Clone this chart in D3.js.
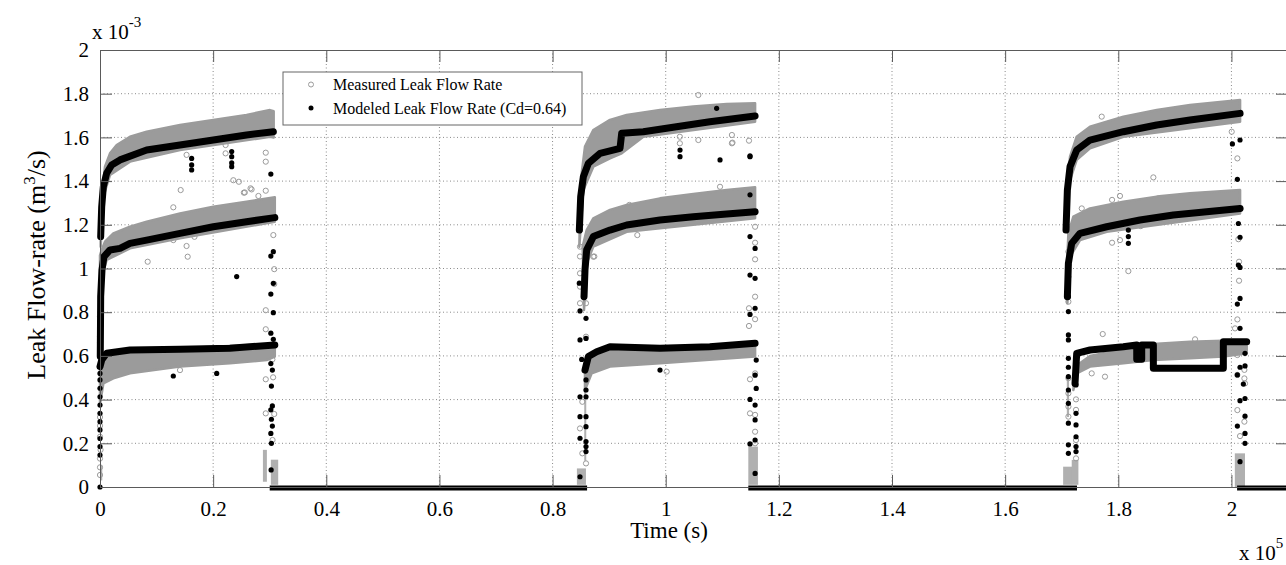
<!DOCTYPE html>
<html>
<head>
<meta charset="utf-8">
<script src="https://cdn.jsdelivr.net/npm/d3@7"></script>
<style>
  html, body { margin: 0; padding: 0; background: #fff; }
  svg text { font-family: "Liberation Serif", "Times New Roman", serif; fill: #000; }
</style>
</head>
<body>
<svg id="chart" width="1286" height="565"></svg>
<script>
// tick values (x in units of 1e5 s, y in units of 1e-3 m3/s)
const xTicks = [0, 0.2, 0.4, 0.6, 0.8, 1, 1.2, 1.4, 1.6, 1.8, 2];
const yTicks = [0, 0.2, 0.4, 0.6, 0.8, 1, 1.2, 1.4, 1.6, 1.8, 2];

// measured band outlines: [time, flow]
const measuredTop = [
  [[0.0012,1.15],[0.003,1.30],[0.0059,1.40],[0.0088,1.466],[0.0177,1.527],[0.0295,1.565],[0.053,1.603],[0.0825,1.626],[0.1414,1.657],[0.2003,1.680],[0.259,1.703],[0.3005,1.725],[0.307,1.72]],
  [[0.0,1.06],[0.003,1.085],[0.0088,1.123],[0.0236,1.161],[0.053,1.191],[0.0825,1.214],[0.1414,1.252],[0.2003,1.283],[0.259,1.306],[0.309,1.326]],
  [[0.0,0.56],[0.0059,0.597],[0.1414,0.635],[0.309,0.655]],
  [[0.8485,1.237],[0.8515,1.436],[0.8573,1.558],[0.872,1.634],[0.9015,1.680],[0.931,1.703],[0.9899,1.725],[1.0488,1.741],[1.1078,1.753],[1.158,1.756]],
  [[0.8532,1.100],[0.8603,1.176],[0.872,1.230],[0.9015,1.268],[0.931,1.291],[0.9899,1.321],[1.0488,1.341],[1.1078,1.359],[1.158,1.372]],
  [[0.8573,0.55],[0.8632,0.60],[0.9015,0.63],[1.158,0.655]],
  [[1.7088,1.359],[1.7147,1.512],[1.7265,1.603],[1.75,1.649],[1.809,1.695],[1.868,1.725],[1.9268,1.748],[2.0153,1.771]],
  [[1.71,1.05],[1.7118,1.161],[1.7206,1.237],[1.75,1.275],[1.809,1.306],[1.868,1.329],[1.9268,1.344],[2.0153,1.359]],
  [[1.7235,0.55],[1.75,0.60],[1.809,0.63],[1.862,0.655],[1.9268,0.665],[2.0,0.670],[2.027,0.67]]
];
const measuredBottom = [
  [[0.0012,1.10],[0.003,1.2],[0.0059,1.329],[0.0177,1.428],[0.053,1.489],[0.1414,1.542],[0.3005,1.603],[0.307,1.60]],
  [[0.0,0.95],[0.003,0.962],[0.0118,1.039],[0.053,1.092],[0.1414,1.138],[0.309,1.214]],
  [[0.0,0.38],[0.0059,0.474],[0.0236,0.497],[0.053,0.520],[0.1414,0.551],[0.2297,0.566],[0.2947,0.581],[0.309,0.597]],
  [[0.8473,1.10],[0.8485,1.146],[0.8544,1.359],[0.872,1.466],[0.9015,1.504],[0.9222,1.527],[0.9604,1.603],[1.158,1.672]],
  [[0.8556,0.81],[0.8603,1.024],[0.872,1.100],[0.931,1.168],[1.158,1.230]],
  [[0.8573,0.444],[0.8691,0.520],[0.9015,0.551],[0.9899,0.566],[1.158,0.597]],
  [[1.7076,1.176],[1.7088,1.30],[1.7147,1.405],[1.7265,1.497],[1.75,1.550],[1.809,1.603],[2.0153,1.672]],
  [[1.71,0.841],[1.7147,1.054],[1.7324,1.130],[1.7795,1.168],[2.0153,1.252]],
  [[1.7206,0.444],[1.7265,0.520],[1.75,0.551],[1.809,0.566],[1.862,0.581],[1.9268,0.589],[1.9857,0.597],[2.027,0.612]]
];

// modeled curves (Cd=0.64)
const modeledCurves = [
  [[0.0012,1.146],[0.003,1.283],[0.0059,1.374],[0.0118,1.436],[0.0206,1.474],[0.0354,1.497],[0.0825,1.542],[0.1414,1.565],[0.2003,1.588],[0.259,1.611],[0.3064,1.626]],
  [[0.0005,0.597],[0.0012,0.871],[0.0035,0.993],[0.007,1.054],[0.0177,1.085],[0.0354,1.092],[0.053,1.115],[0.0825,1.130],[0.1414,1.161],[0.2003,1.191],[0.259,1.214],[0.309,1.233]],
  [[0.0,0.551],[0.003,0.581],[0.0118,0.612],[0.053,0.627],[0.1414,0.630],[0.2297,0.635],[0.309,0.650]],
  [[0.8473,1.176],[0.8497,1.329],[0.8544,1.420],[0.8632,1.481],[0.8839,1.527],[0.9192,1.550],[0.9222,1.619],[0.9604,1.626],[1.019,1.649],[1.078,1.672],[1.158,1.698]],
  [[0.8556,0.871],[0.8573,0.993],[0.8603,1.085],[0.872,1.146],[0.9015,1.176],[0.931,1.199],[0.9899,1.222],[1.0488,1.237],[1.1078,1.249],[1.158,1.260]],
  [[0.8573,0.535],[0.8632,0.597],[0.878,0.619],[0.9015,0.642],[0.9899,0.635],[1.078,0.642],[1.158,0.658]],
  [[1.7076,1.176],[1.71,1.359],[1.7147,1.466],[1.7265,1.542],[1.75,1.588],[1.809,1.626],[1.868,1.657],[1.9268,1.680],[2.0153,1.710]],
  [[1.71,0.871],[1.7118,1.024],[1.7176,1.115],[1.7324,1.161],[1.7795,1.191],[1.8384,1.222],[1.8973,1.245],[1.9562,1.260],[2.0153,1.275]],
  [[1.7235,0.474],[1.7265,0.612],[1.75,0.627],[1.809,0.642],[1.8326,0.650],[1.8326,0.585],[1.8414,0.585],[1.8414,0.650],[1.862,0.650],[1.862,0.543],[1.9857,0.543],[1.9857,0.665],[2.027,0.665]]
];

// modeled flow sitting at zero between pulses: [from, to]
const modeledZero = [[0.300, 0.861], [1.146, 1.727], [2.010, 2.1]];

// dense clumps of measured points near the valve switches: [t0, t1, v0, v1]
const measuredClumps = [
  [0.0, 0.004, 0.03, 0.10],
  [0.288, 0.295, 0.024, 0.170], [0.302, 0.315, 0.01, 0.125],
  [0.843, 0.859, 0.01, 0.085], [0.856, 0.8585, 0.12, 0.45],
  [1.146, 1.163, 0.01, 0.185],
  [1.7025, 1.7185, 0.01, 0.093], [1.7177, 1.7295, 0.01, 0.124], [1.709, 1.713, 0.32, 0.50],
  [2.006, 2.024, 0.0, 0.154]
];

// scattered measured points (open grey circles)
const measuredPoints = [
  [0.0,0.055],[0.0,0.09],[0.0,0.13],[0.001,0.17],[0.0,0.23],[0.0,0.28],[0.0,0.32],[0.0,0.66],[0.0,0.69],[0.0,0.78],[0.001,0.80],
  [0.153,1.52],[0.222,1.565],[0.222,1.527],[0.2357,1.404],[0.2455,1.397],[0.1426,1.359],[0.2543,1.347],[0.2661,1.367],[0.1296,1.280],[0.221,1.200],[0.1296,1.130],[0.153,1.103],[0.167,1.145],[0.155,1.054],[0.0843,1.031],[0.1414,0.535],
  [0.293,1.530],[0.293,1.489],[0.293,1.356],[0.268,1.362],[0.256,1.348],[0.28,1.332],[0.3064,1.153],[0.308,0.997],[0.308,0.929],[0.293,0.809],[0.293,0.722],[0.3047,0.584],[0.293,0.493],[0.306,0.502],[0.293,0.337],[0.308,0.334],[0.305,0.215],
  [0.8485,1.100],[0.8485,1.055],[0.8485,0.978],[0.8485,0.917],[0.8485,0.841],[0.8591,0.688],[0.8591,0.841],[0.8526,0.390],[0.8485,0.268],[0.8526,0.154],[0.8591,0.108],[0.8738,1.055],
  [1.0577,1.794],[1.025,1.603],[1.025,1.573],[1.0577,1.588],[1.117,1.611],[1.117,1.573],[1.096,1.374],[0.9357,1.291],[0.9498,1.153],[1.0017,0.528],[0.872,1.054],
  [1.118,1.576],[1.1472,1.585],[1.158,1.191],[1.158,1.118],[1.158,1.042],[1.158,0.871],[1.1472,0.818],[1.158,0.768],[1.1472,0.737],[1.149,0.493],[1.158,0.520],[1.149,0.337],[1.158,0.330],[1.158,0.253],[1.158,0.200],
  [1.7354,1.275],[1.7118,1.077],[1.7118,1.016],[1.7118,0.962],[1.7118,0.848],[1.7118,0.498],[1.7118,0.429],[1.7118,0.368],[1.7118,0.322],[1.7253,0.401],[1.7253,0.353],[1.7253,0.215],[1.7253,0.131],[1.753,0.520],[1.7765,0.505],[1.7725,0.700],
  [1.7707,1.695],[1.862,1.417],[1.803,1.332],[1.789,1.314],[1.789,1.118],[1.803,1.130],[1.8397,1.194],[1.8178,0.988],[1.9357,0.676],
  [2.0005,1.626],[2.0105,1.504],[2.0005,1.276],[2.0123,1.134],[2.0135,1.031],[2.0135,0.944],[2.0105,0.767],[2.0064,0.726],[2.0105,0.604],[2.0105,0.513],[2.0229,0.536],[2.0229,0.497],[2.024,0.474],[2.0105,0.352],[2.0229,0.299],[2.0152,0.233]
];

// scattered modeled points (black dots)
const modeledPoints = [
  [0.0,0.0],[0.0,0.146],[0.0,0.185],[0.0,0.222],[0.0,0.261],[0.0,0.299],[0.0,0.337],[0.0,0.375],[0.0,0.413],[0.0,0.452],[0.0,0.490],[0.0,0.520],[0.0,0.696],[0.0,0.726],
  [0.162,1.504],[0.162,1.474],[0.162,1.451],[0.2328,1.535],[0.2328,1.512],[0.2328,1.483],[0.2328,1.466],[0.2416,0.963],[0.1296,0.508],[0.2063,0.520],
  [0.302,1.432],[0.3064,1.077],[0.302,1.057],[0.3064,0.932],[0.302,0.883],[0.3064,0.798],[0.302,0.704],[0.3064,0.676],[0.302,0.565],[0.3047,0.535],[0.303,0.462],[0.3047,0.371],[0.302,0.353],[0.303,0.310],[0.3047,0.279],[0.302,0.245],[0.303,0.200],[0.3025,0.078],
  [0.8485,1.176],[0.8473,0.933],[0.8485,0.806],[0.8591,0.772],[0.8485,0.673],[0.8591,0.680],[0.8515,0.584],[0.8485,0.413],[0.8485,0.322],[0.8591,0.322],[0.8485,0.223],[0.8591,0.208],[0.8591,0.185],[0.8591,0.162],[0.8591,0.276],[0.8591,0.413],[0.8591,0.444],[0.8591,0.490],[0.8485,0.047],
  [1.0253,1.542],[1.0253,1.512],[1.096,1.497],[1.149,1.512],[1.090,1.733],[0.9899,0.535],
  [1.149,1.515],[1.149,1.337],[1.149,1.146],[1.158,1.092],[1.149,0.970],[1.158,0.955],[1.158,0.818],[1.149,0.790],[1.16,0.581],[1.158,0.512],[1.16,0.451],[1.149,0.401],[1.158,0.375],[1.158,0.307],[1.158,0.215],[1.149,0.197],[1.158,0.062],
  [1.7118,0.901],[1.7118,0.871],[1.7118,0.803],[1.7118,0.696],[1.7118,0.673],[1.7118,0.589],[1.7118,0.548],[1.7118,0.505],[1.7118,0.444],[1.7118,0.383],[1.7118,0.292],[1.7118,0.193],[1.7118,0.154],[1.7253,0.536],[1.7253,0.467],[1.7253,0.337],[1.7253,0.284],[1.7253,0.230],[1.7253,0.185],[1.7253,0.162],
  [1.8178,1.176],[1.8178,1.146],[1.8178,1.115],
  [2.0017,1.570],[2.0152,1.588],[2.0105,1.408],[2.0123,1.206],[2.0152,1.143],[2.0123,1.016],[2.0152,1.005],[2.0152,0.863],[2.0105,0.837],[2.0152,0.726],[2.024,0.612],[2.024,0.554],[2.0152,0.548],[2.0105,0.513],[2.0211,0.471],[2.0152,0.395],[2.024,0.405],[2.024,0.324],[2.0105,0.279],[2.024,0.245],[2.024,0.200],[2.0152,0.116]
];

const legendLabels = ["Measured Leak Flow Rate", "Modeled Leak Flow Rate (Cd=0.64)"];

const svg = d3.select('#chart');
const serif = '"Liberation Serif", "Times New Roman", serif';

const render = () => {
    // plot box (right side runs just past the window, like the picture)
    const left = 100, right = 1288, top = 50, bottom = 487;
    const grey = '#9b9b9b';
    const axisColor = '#5a5a5a';

    const xScale = d3.scaleLinear().domain([0, 2.1]).range([left, right]);
    const yScale = d3.scaleLinear().domain([0, 2]).range([bottom, top]);

    // dotted grid
    const grid = svg.append('g');
    grid.selectAll('.gx').data(xTicks.slice(1)).enter().append('line')
        .attr('x1', d => xScale(d)).attr('x2', d => xScale(d))
        .attr('y1', top).attr('y2', bottom)
        .attr('stroke', '#8a8a8a').attr('stroke-dasharray', '1,2.5');
    grid.selectAll('.gy').data(yTicks.slice(1, -1)).enter().append('line')
        .attr('x1', left).attr('x2', right)
        .attr('y1', d => yScale(d)).attr('y2', d => yScale(d))
        .attr('stroke', '#8a8a8a').attr('stroke-dasharray', '1,2.5');

    const plot = svg.append('g');
    const lineGen = d3.line().x(d => xScale(d[0])).y(d => yScale(d[1]));

    // measured bands
    measuredTop.forEach((topEdge, i) => {
        const outline = topEdge.concat(measuredBottom[i].slice().reverse());
        plot.append('path')
            .attr('d', lineGen(outline) + 'Z')
            .attr('fill', grey)
            .attr('stroke', grey)
            .attr('stroke-width', 2.5)
            .attr('stroke-linejoin', 'round');
    });

    // measured clumps
    plot.selectAll('.clump').data(measuredClumps).enter().append('rect')
        .attr('x', d => xScale(d[0]))
        .attr('width', d => Math.max(2, xScale(d[1]) - xScale(d[0])))
        .attr('y', d => yScale(d[3]))
        .attr('height', d => yScale(d[2]) - yScale(d[3]))
        .attr('fill', '#b0b0b0');

    // measured scatter
    plot.selectAll('.mp').data(measuredPoints).enter().append('circle')
        .attr('cx', d => xScale(d[0])).attr('cy', d => yScale(d[1]))
        .attr('r', 2.6)
        .attr('fill', 'none').attr('stroke', grey).attr('stroke-width', 1);

    // modeled zero segments
    plot.selectAll('.zero').data(modeledZero).enter().append('line')
        .attr('x1', d => xScale(d[0])).attr('x2', d => xScale(d[1]))
        .attr('y1', yScale(0) + 1).attr('y2', yScale(0) + 1)
        .attr('stroke', '#000').attr('stroke-width', 5);

    // modeled curves
    modeledCurves.forEach(c => {
        plot.append('path')
            .attr('d', lineGen(c))
            .attr('fill', 'none')
            .attr('stroke', '#000')
            .attr('stroke-width', 7)
            .attr('stroke-linejoin', 'round')
            .attr('stroke-linecap', 'round');
    });

    // modeled scatter
    plot.selectAll('.dp').data(modeledPoints).enter().append('circle')
        .attr('cx', d => xScale(d[0])).attr('cy', d => yScale(d[1]))
        .attr('r', 2.6)
        .attr('fill', '#000');

    // axes with inward ticks on all four sides
    const styleAxis = g => {
        g.attr('font-family', serif);
        g.selectAll('path').attr('stroke', axisColor);
        g.selectAll('line').attr('stroke', axisColor);
        g.selectAll('text')
            .style('font-family', serif)
            .style('font-size', '21px')
            .attr('fill', '#000');
    };
    const fmt = d => String(d);
    svg.append('g').attr('transform', `translate(0,${bottom})`)
        .call(d3.axisBottom(xScale).tickValues(xTicks).tickFormat(fmt).tickSizeInner(-12).tickSizeOuter(0).tickPadding(14))
        .call(styleAxis);
    svg.append('g').attr('transform', `translate(0,${top})`)
        .call(d3.axisTop(xScale).tickValues(xTicks).tickSizeInner(-12).tickSizeOuter(0).tickFormat(''))
        .call(styleAxis);
    svg.append('g').attr('transform', `translate(${left},0)`)
        .call(d3.axisLeft(yScale).tickValues(yTicks).tickFormat(fmt).tickSizeInner(-12).tickSizeOuter(0).tickPadding(11))
        .call(styleAxis);
    svg.append('g').attr('transform', `translate(${right},0)`)
        .call(d3.axisRight(yScale).tickValues(yTicks).tickSizeInner(-12).tickSizeOuter(0).tickFormat(''))
        .call(styleAxis);

    // exponent labels
    const expTop = svg.append('text').attr('x', 92).attr('y', 39).style('font-size', '21px');
    expTop.append('tspan').text('x 10');
    expTop.append('tspan').attr('dy', -12).style('font-size', '15px').text('-3');

    const expBottom = svg.append('text').attr('x', 1239).attr('y', 560).style('font-size', '21px');
    expBottom.append('tspan').text('x 10');
    expBottom.append('tspan').attr('dy', -12).style('font-size', '15px').text('5');

    // axis titles
    svg.append('text')
        .attr('x', 669).attr('y', 538)
        .attr('text-anchor', 'middle')
        .style('font-size', '23px')
        .text('Time (s)');

    const yTitle = svg.append('text')
        .attr('transform', 'translate(45, 265) rotate(-90)')
        .attr('text-anchor', 'middle')
        .style('font-size', '26px');
    yTitle.append('tspan').text('Leak Flow-rate (m');
    yTitle.append('tspan').attr('dy', -10).style('font-size', '17px').text('3');
    yTitle.append('tspan').attr('dy', 10).text('/s)');

    // legend
    const lg = svg.append('g');
    lg.append('rect')
        .attr('x', 283).attr('y', 72).attr('width', 299).attr('height', 53)
        .attr('fill', '#fff').attr('stroke', '#666');
    lg.append('circle').attr('cx', 311).attr('cy', 84.5).attr('r', 2.5)
        .attr('fill', 'none').attr('stroke', grey);
    lg.append('circle').attr('cx', 311).attr('cy', 108).attr('r', 2.5).attr('fill', '#000');
    lg.selectAll('.lt').data(legendLabels).enter().append('text')
        .attr('x', 333).attr('y', (d, i) => 90 + i * 23.5)
        .style('font-size', '16px')
        .text(d => d);
};

render();
</script>
</body>
</html>
